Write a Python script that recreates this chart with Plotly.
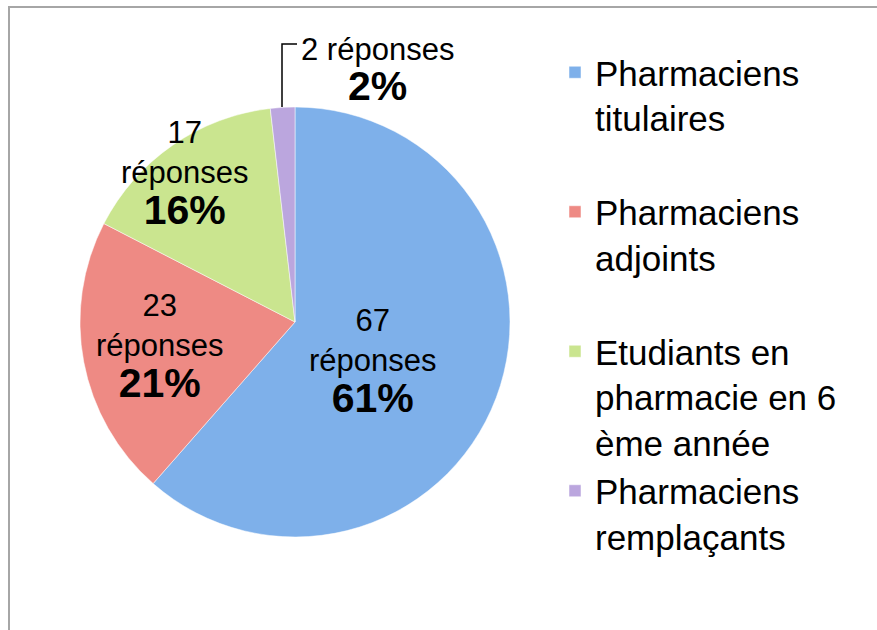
import plotly.graph_objects as go

categories = [
    'Pharmaciens<br>titulaires',
    'Pharmaciens<br>adjoints',
    'Etudiants en<br>pharmacie en 6<br>ème année',
    'Pharmaciens<br>remplaçants',
]
responses = [67, 23, 17, 2]
colors = ['#7eb0ea', '#ee8a84', '#cae58f', '#bba6de']

# where each slice label sits (px from the left / top of the chart)
label_pos = [(373, 362), (160, 347), (185, 174), (377, 70)]

# pad the two-line entries so the legend rows come out evenly spaced
legend_labels = [c if c.count('<br>') >= 2 or i == len(categories) - 1 else c + '<br> '
                 for i, c in enumerate(categories)]

total = sum(responses)
pct = [round(100 * v / total) for v in responses]

FONT = 'Liberation Sans, Arial, sans-serif'
W, H = 877, 630

fig = go.Figure()
fig.add_trace(go.Pie(
    labels=legend_labels,
    values=responses,
    sort=False,
    direction='clockwise',
    rotation=0,
    marker={'colors': colors, 'line': {'color': 'white', 'width': 0.5}},
    textinfo='none',
    domain={'x': [80 / W, 510 / W], 'y': [93 / H, 523 / H]},
    hoverinfo='label+value+percent',
))

for i, (v, p) in enumerate(zip(responses, pct)):
    sep = ' ' if v < 10 else '<br>'
    fig.add_annotation(
        xref='paper', yref='paper',
        x=label_pos[i][0] / W, y=1 - label_pos[i][1] / H,
        xanchor='center', yanchor='middle',
        text=f'{v}{sep}réponses<br><span style="font-size:41px"><b>{p}%</b></span>',
        showarrow=False, font={'family': FONT, 'size': 31, 'color': 'black'},
    )

# leader line for the small slice
fig.add_shape(type='path', xref='paper', yref='paper',
              path=f'M {282 / W},{1 - 107 / H} L {282 / W},{1 - 44 / H} L {297 / W},{1 - 44 / H}',
              line={'color': 'black', 'width': 1.5})

fig.add_shape(type='rect', xref='paper', yref='paper',
              x0=9 / W, x1=1.02, y0=-0.02, y1=623 / H,
              line={'color': '#a6a6a6', 'width': 2}, layer='below')

fig.update_layout(
    width=W,
    height=H,
    margin={'l': 0, 'r': 0, 't': 0, 'b': 0},
    paper_bgcolor='white',
    font={'family': FONT, 'color': 'black'},
    showlegend=True,
    legend={
        'x': 555 / W, 'y': 1 - 43 / H,
        'xanchor': 'left', 'yanchor': 'top',
        'valign': 'top',
        'font': {'size': 35, 'color': 'black'},
        'bgcolor': 'rgba(0,0,0,0)',
    },
)

fig.write_html('out.html', config={'displayModeBar': False},
               post_script="document.body.style.margin='0';")
